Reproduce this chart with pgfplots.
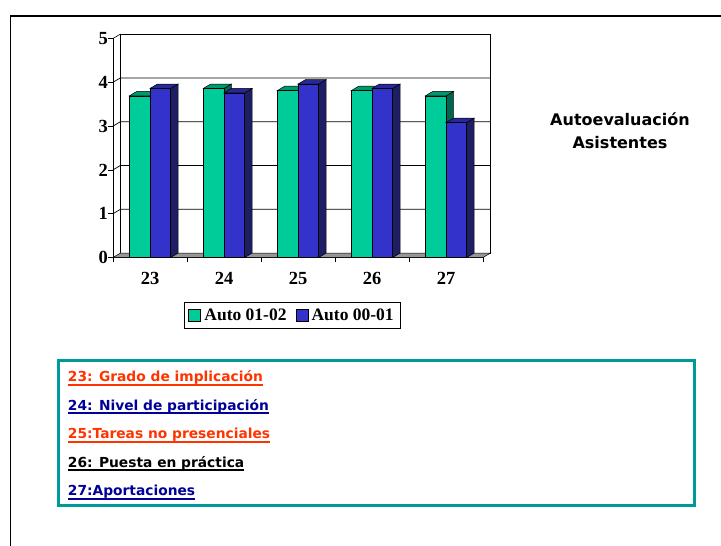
\documentclass[border=0pt]{standalone}
\usepackage{fontspec}
\setmainfont{Liberation Serif}
\newfontfamily\notefont{DejaVu Sans}
\usepackage{pgfplots}
\pgfplotsset{compat=1.18}
\usepackage{pgfplotstable}

\definecolor{grfront}{RGB}{0,204,153}
\definecolor{grtop}{RGB}{0,153,110}
\definecolor{grside}{RGB}{0,102,77}
\definecolor{blfront}{RGB}{51,51,204}
\definecolor{bltop}{RGB}{40,40,150}
\definecolor{blside}{RGB}{30,30,100}
\definecolor{floorgray}{RGB}{150,150,150}
\definecolor{frameteal}{RGB}{0,153,153}
\definecolor{itemred}{RGB}{255,51,0}
\definecolor{itemblue}{RGB}{0,0,153}

% self-assessment scores per item
\pgfplotstableread{
idx auto0102 auto0001
0   3.69     3.86
1   3.86     3.76
2   3.81     3.96
3   3.81     3.86
4   3.69     3.08
}\bars

\newcommand\depthx{0.1}
\newcommand\depthy{0.1}
\newcommand\barw{0.28}

% one 3D bar: left edge, height, front / top / side colours
\newcommand\prism[5]{%
  \pgfmathsetmacro\pXl{#1}%
  \pgfmathsetmacro\pXr{#1+\barw}%
  \pgfmathsetmacro\pXlb{\pXl+\depthx}%
  \pgfmathsetmacro\pXrb{\pXr+\depthx}%
  \pgfmathsetmacro\pH{#2}%
  \pgfmathsetmacro\pHb{#2+\depthy}%
  \edef\next{%
    \noexpand\addplot[forget plot, fill=#5, draw=black, line width=0.5pt]
      coordinates {(\pXr,0) (\pXrb,\depthy) (\pXrb,\pHb) (\pXr,\pH)} -- cycle;
    \noexpand\addplot[forget plot, fill=#4, draw=black, line width=0.5pt]
      coordinates {(\pXl,\pH) (\pXr,\pH) (\pXrb,\pHb) (\pXlb,\pHb)} -- cycle;
    \noexpand\addplot[forget plot, fill=#3, draw=black, line width=0.5pt]
      coordinates {(\pXl,0) (\pXr,0) (\pXr,\pH) (\pXl,\pH)} -- cycle;
  }\next}

\newcommand\ul[1]{\setbox0\hbox{#1}\rlap{\copy0}\rule[-3.7pt]{\wd0}{1.7pt}}

\begin{document}
\begin{tikzpicture}[x=1pt,y=1pt]
\useasboundingbox (0,0) rectangle (721,546);

% page frame
\draw[black, line width=1.5pt] (10.5,-2) -- (10.5,529.8) -- (725,529.8);

\begin{axis}[
  at={(113pt,288.5pt)}, anchor=south west,
  x=74pt, y=43.8pt,
  xmin=-0.5, xmax=4.5, ymin=0, ymax=5,
  clip=false,
  axis x line*=bottom, axis y line*=left,
  axis line style={-, line width=0.6pt},
  tick align=outside,
  major tick length=5pt,
  tick style={black, line width=0.6pt},
  ytick={0,1,2,3,4,5},
  xtick={-0.5,0.5,1.5,2.5,3.5,4.5},
  xticklabels={},
  extra x ticks={0,1,2,3,4},
  extra x tick labels={23,24,25,26,27},
  extra x tick style={major tick length=0pt},
  ticklabel style={font=\bfseries\fontsize{18.5}{18.5}\selectfont},
  xticklabel style={yshift=-11pt},
  yticklabel style={xshift=3.5pt},
  /pgf/number format/assume math mode=true,
  legend style={at={(0.484,-0.263)}, anchor=center, draw=black,
    line width=0.8pt, font=\bfseries\fontsize{17.5}{18}\selectfont,
    inner xsep=4.5pt, inner ysep=4.5pt,
    /tikz/every odd column/.append style={column sep=1.5pt},
    /tikz/every even column/.append style={column sep=7pt}},
  legend columns=-1,
  legend image code/.code={\draw[#1, line width=0.5pt] (0pt,-6pt) rectangle (12pt,6pt);},
]
% back wall with grid
\draw[black, line width=0.6pt, fill=white] (axis cs:-0.4,0.1) rectangle (axis cs:4.6,5.1);
\draw[black, line width=0.7pt] (axis cs:-0.5,1) -- (axis cs:-0.4,1.1) -- (axis cs:4.6,1.1);
\draw[black, line width=0.7pt] (axis cs:-0.5,2) -- (axis cs:-0.4,2.1) -- (axis cs:4.6,2.1);
\draw[black, line width=0.7pt] (axis cs:-0.5,3) -- (axis cs:-0.4,3.1) -- (axis cs:4.6,3.1);
\draw[black, line width=0.7pt] (axis cs:-0.5,4) -- (axis cs:-0.4,4.1) -- (axis cs:4.6,4.1);
\draw[black, line width=0.6pt] (axis cs:-0.5,5) -- (axis cs:-0.4,5.1);
% floor
\filldraw[fill=floorgray, draw=black, line width=0.5pt]
  (axis cs:-0.5,0) -- (axis cs:4.5,0) -- (axis cs:4.6,0.1) -- (axis cs:-0.4,0.1) -- cycle;

\pgfplotsforeachungrouped \i in {0,...,4}{%
  \pgfplotstablegetelem{\i}{auto0102}\of\bars \let\vG\pgfplotsretval
  \pgfplotstablegetelem{\i}{auto0001}\of\bars \let\vB\pgfplotsretval
  \prism{\i-\barw}{\vG}{grfront}{grtop}{grside}%
  \prism{\i}{\vB}{blfront}{bltop}{blside}%
}

\addlegendimage{fill=grfront, draw=black}
\addlegendentry{Auto 01-02}
\addlegendimage{fill=blfront, draw=black}
\addlegendentry{Auto 00-01}
\end{axis}

% chart title
\node[anchor=base, font=\notefont\bfseries\fontsize{16}{16}\selectfont, inner sep=0] at (620,420.3) {Autoevaluación};
\node[anchor=base, font=\notefont\bfseries\fontsize{16}{16}\selectfont, inner sep=0] at (620,397.7) {Asistentes};

% item key
\draw[frameteal, line width=3pt] (58,185) rectangle (694,40);
\begin{scope}[every node/.style={anchor=base west, inner sep=0, font=\notefont\bfseries\fontsize{13.8}{14}\selectfont}]
\node[text=itemred]  at (67.7,164)   {\ul{23: Grado de implicación}};
\node[text=itemblue] at (67.7,135.5) {\ul{24: Nivel de participación}};
\node[text=itemred]  at (67.7,107)   {\ul{25:Tareas no presenciales}};
\node[text=black]    at (67.7,78.5)  {\ul{26: Puesta en práctica}};
\node[text=itemblue] at (67.7,50)    {\ul{27:Aportaciones}};
\end{scope}
\end{tikzpicture}
\end{document}
